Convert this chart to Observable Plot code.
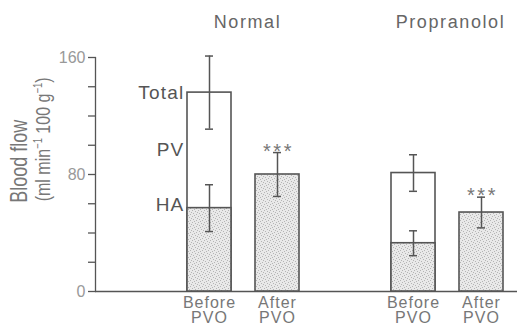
<!DOCTYPE html>
<html>
<head>
<meta charset="utf-8">
<script src="https://cdn.jsdelivr.net/npm/d3@7"></script>
<script src="https://cdn.jsdelivr.net/npm/@observablehq/plot@0.6"></script>
<style>
  body { margin: 0; background: #fff; }
  #chart svg { font-family: "Liberation Sans", Arial, sans-serif; }
  g[aria-label="y-axis tick label"] text { fill: #999; }
  g[aria-description="title"] text { letter-spacing: 1.6px; }
  g[aria-description="segment"] text { letter-spacing: 1.2px; }
  g[aria-description="xlabel"] text { letter-spacing: 1px; }
  g[aria-description="stars"] text { letter-spacing: 2.5px; }
</style>
</head>
<body>
<div id="chart"></div>
<script>
// ---- data ----
const groups = ["Normal", "Propranolol"];
const conditions = ["Normal Before", "Normal After", "Propranolol Before", "Propranolol After"];
const xLabels = ["Before\nPVO", "After\nPVO", "Before\nPVO", "After\nPVO"];
const totalFlow = [136, null, 81, null];      // total liver blood flow (before PVO only)
const totalSE = [25, null, 12.5, null];
const haFlow = [57, 80, 33, 54];               // hepatic arterial flow
const haSE = [16, 15, 8.5, 10.5];
const significance = ["", "***", "", "***"];
const segmentLabels = ["Total", "PV", "HA"];
const yTitle = ["Blood flow", "(ml min", "\u22121", " 100 g", "\u22121", ")"];
const yTicks = [0, 20, 40, 60, 80, 100, 120, 140, 160];
const yTickLabels = [0, 80, 160];

// ---- build tables ----
const rows = conditions.map((c, i) => ({
  cond: c, label: xLabels[i], total: totalFlow[i], totalSE: totalSE[i],
  ha: haFlow[i], haSE: haSE[i], sig: significance[i]
}));
const totalRows = rows.filter(d => d.total != null);
const xDomain = [conditions[0], conditions[1], "gap", conditions[2], conditions[3]];
const first = rows[0];
const segRows = [
  {name: segmentLabels[0], y: first.total, anchor: "middle"},
  {name: segmentLabels[1], y: (first.total + first.ha) / 2, anchor: "middle"},
  {name: segmentLabels[2], y: first.ha, anchor: "bottom"}
];
const ink = "#555";

const chart = Plot.plot({
  width: 517,
  height: 329,
  marginLeft: 95,
  marginRight: 0,
  marginTop: 57,
  marginBottom: 38,
  x: {type: "band", domain: xDomain, range: [185.5, 505.5], paddingInner: 0.35, paddingOuter: 0, axis: null},
  y: {domain: [0, 160], axis: null},
  marks: [
    Plot.frame({anchor: "left", stroke: ink, strokeWidth: 1.3}),
    Plot.axisY({ticks: yTicks, tickSize: 7, tickPadding: 3, stroke: ink, strokeWidth: 1.3,
      tickFormat: d => yTickLabels.includes(d) ? String(d) : "", fontSize: 16, label: null}),
    Plot.ruleY([0], {stroke: ink, strokeWidth: 1.3}),
    // total flow bars (white)
    Plot.barY(totalRows, {x: "cond", y: "total", fill: "white", stroke: ink, strokeWidth: 1.6}),
    // HA bars (stippled)
    Plot.barY(rows, {x: "cond", y: "ha", fill: "url(#stipple)", stroke: ink, strokeWidth: 1.6}),
    // error bars total
    Plot.ruleX(totalRows, {x: "cond", y1: d => d.total - d.totalSE, y2: d => d.total + d.totalSE, stroke: ink, strokeWidth: 1.5}),
    Plot.tickY(totalRows, {x: "cond", y: d => d.total + d.totalSE, stroke: ink, strokeWidth: 1.5, insetLeft: 18, insetRight: 18}),
    Plot.tickY(totalRows, {x: "cond", y: d => d.total - d.totalSE, stroke: ink, strokeWidth: 1.5, insetLeft: 18, insetRight: 18}),
    // error bars HA
    Plot.ruleX(rows, {x: "cond", y1: d => d.ha - d.haSE, y2: d => d.ha + d.haSE, stroke: ink, strokeWidth: 1.5}),
    Plot.tickY(rows, {x: "cond", y: d => d.ha + d.haSE, stroke: ink, strokeWidth: 1.5, insetLeft: 18, insetRight: 18}),
    Plot.tickY(rows, {x: "cond", y: d => d.ha - d.haSE, stroke: ink, strokeWidth: 1.5, insetLeft: 18, insetRight: 18}),
    // significance stars
    Plot.text(rows, {x: "cond", y: d => d.ha + d.haSE, text: "sig", lineAnchor: "bottom", dy: 5, dx: 1,
      fontSize: 20, fill: "#777", ariaDescription: "stars"}),
    // segment labels
    Plot.text(segRows.filter(d => d.anchor === "middle"), {x: () => first.cond, y: "y", text: "name", textAnchor: "end",
      lineAnchor: "middle", dx: -25, fontSize: 19, fill: ink, ariaDescription: "segment"}),
    Plot.text(segRows.filter(d => d.anchor === "bottom"), {x: () => first.cond, y: "y", text: "name", textAnchor: "end",
      lineAnchor: "bottom", dx: -25, dy: 3, fontSize: 19, fill: ink, ariaDescription: "segment"}),
    // x labels
    Plot.text(rows, {x: "cond", text: "label", frameAnchor: "bottom", lineAnchor: "top", dy: 5,
      fontSize: 16, lineHeight: 0.98, fill: "#777", ariaDescription: "xlabel"}),
    // group titles
    Plot.text([groups[0]], {x: () => conditions[0], text: d => d, frameAnchor: "top", lineAnchor: "middle",
      dy: -35.5, dx: 38, fontSize: 18, fill: "#666", ariaDescription: "title"}),
    Plot.text([groups[1]], {x: () => conditions[2], text: d => d, frameAnchor: "top", lineAnchor: "middle",
      dy: -35.5, dx: 37, fontSize: 18, fill: "#666", ariaDescription: "title"}),
    // y-axis label (two lines)
    Plot.text([yTitle[0]], {text: d => d, frameAnchor: "left", y: () => 89, dx: -76, rotate: -90,
      textAnchor: "middle", lineAnchor: "middle", fontSize: 18, fill: "#777", ariaDescription: "ylabel1"}),
    Plot.text([yTitle.slice(1).join("")], {text: d => d, frameAnchor: "left", y: () => 104, dx: -52, rotate: -90,
      textAnchor: "middle", lineAnchor: "middle", fontSize: 16, fill: "#777", ariaDescription: "ylabel2"})
  ]
});

const svg = d3.select(chart);
// rebuild the unit label with raised superscripts
const unitText = svg.select('g[aria-description="ylabel2"] text');
unitText.text(null);
yTitle.slice(1).forEach((part, i) => {
  const sup = part === "\u22121";
  const t = unitText.append("tspan").text(part);
  if (sup) t.attr("font-size", 9.5).attr("dy", -6.5);
  else if (i > 0) t.attr("dy", 6.5);
});
// the reference's rotated label glyphs are taller across than the plain font
svg.selectAll('g[aria-description="ylabel1"] text, g[aria-description="ylabel2"] text').each(function() {
  const tr = this.getAttribute("transform") || "";
  this.setAttribute("transform", tr + " scale(1,1.3)");
});

// stipple pattern definition
const defs = svg.insert("defs", ":first-child");
const pat = defs.append("pattern").attr("id", "stipple").attr("patternUnits", "userSpaceOnUse")
  .attr("width", 6).attr("height", 6);
pat.append("rect").attr("width", 6).attr("height", 6).attr("fill", "#e9e9e9");
[[0,0],[3,1],[1,3],[4,4],[2,5],[5,2]].forEach(([x, y]) =>
  pat.append("rect").attr("x", x).attr("y", y).attr("width", 1).attr("height", 1).attr("fill", "#b5b5b5"));

document.getElementById("chart").appendChild(chart);
</script>
</body>
</html>
